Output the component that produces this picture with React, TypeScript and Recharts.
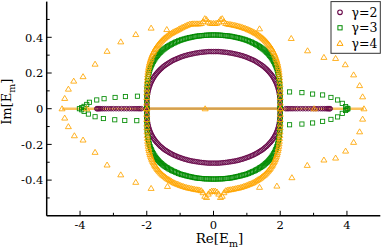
import React from 'react';
import { ScatterChart, Scatter, XAxis, YAxis, Label } from 'recharts';

// ---- data ----
// real parts of the ring-shaped eigenvalue branches (shared by all three γ)
const ringRe = [2, 2, 2, 1.999,
  1.997, 1.994, 1.989, 1.983, 1.975, 1.967, 1.956, 1.945, 1.932, 1.918,
  1.902, 1.885, 1.867, 1.848, 1.827, 1.805, 1.782, 1.758, 1.732, 1.705,
  1.677, 1.648, 1.618, 1.587, 1.554, 1.521, 1.486, 1.451, 1.414, 1.377,
  1.338, 1.299, 1.259, 1.218, 1.176, 1.133, 1.089, 1.045, 1, 0.954,
  0.908, 0.861, 0.813, 0.765, 0.717, 0.668, 0.618, 0.568, 0.518, 0.467,
  0.416, 0.364, 0.313, 0.261, 0.209, 0.157, 0.105, 0.052,
  0,
  -0.052, -0.105, -0.157, -0.209, -0.261, -0.313, -0.364, -0.416,
  -0.467, -0.518, -0.568, -0.618, -0.668, -0.717, -0.765, -0.813, -0.861, -0.908,
  -0.954, -1, -1.045, -1.089, -1.133, -1.176, -1.218, -1.259, -1.299, -1.338,
  -1.377, -1.414, -1.451, -1.486, -1.521, -1.554, -1.587, -1.618, -1.648, -1.677,
  -1.705, -1.732, -1.758, -1.782, -1.805, -1.827, -1.848, -1.867, -1.885, -1.902,
  -1.918, -1.932, -1.945, -1.956, -1.967, -1.975, -1.983, -1.989, -1.994, -1.997,
  -1.999, -2, -2, -2];

// γ=2 ring, imaginary parts (upper / lower branch)
const g2ImUpper = [0, 0.006, 0.016, 0.027,
  0.036, 0.049, 0.060, 0.071, 0.081, 0.091, 0.100, 0.109, 0.118, 0.126,
  0.134, 0.142, 0.150, 0.157, 0.164, 0.172, 0.178, 0.185, 0.192, 0.198,
  0.204, 0.210, 0.216, 0.222, 0.227, 0.233, 0.238, 0.243, 0.248, 0.252,
  0.257, 0.261, 0.266, 0.270, 0.274, 0.277, 0.281, 0.284, 0.288, 0.291,
  0.294, 0.297, 0.299, 0.302, 0.304, 0.306, 0.308, 0.310, 0.312, 0.313,
  0.315, 0.316, 0.317, 0.318, 0.319, 0.320, 0.320, 0.320,
  0.320,
  0.320, 0.320, 0.320, 0.319, 0.318, 0.317, 0.316, 0.315,
  0.313, 0.312, 0.310, 0.308, 0.306, 0.304, 0.302, 0.299, 0.297, 0.294,
  0.291, 0.288, 0.284, 0.281, 0.277, 0.274, 0.270, 0.266, 0.261, 0.257,
  0.252, 0.248, 0.243, 0.238, 0.233, 0.227, 0.222, 0.216, 0.210, 0.204,
  0.198, 0.192, 0.185, 0.178, 0.172, 0.164, 0.157, 0.150, 0.142, 0.134,
  0.126, 0.118, 0.109, 0.100, 0.091, 0.081, 0.071, 0.060, 0.049, 0.036,
  0.027, 0.016, 0.006, 0];
const g2ImLower = [0, -0.006, -0.015, -0.026,
  -0.034, -0.047, -0.057, -0.068, -0.077, -0.087, -0.095, -0.104, -0.112, -0.120,
  -0.128, -0.135, -0.143, -0.150, -0.156, -0.164, -0.170, -0.176, -0.183, -0.189,
  -0.194, -0.200, -0.206, -0.212, -0.216, -0.222, -0.227, -0.232, -0.236, -0.240,
  -0.245, -0.249, -0.253, -0.257, -0.261, -0.264, -0.268, -0.271, -0.274, -0.277,
  -0.280, -0.283, -0.285, -0.288, -0.290, -0.292, -0.294, -0.295, -0.297, -0.298,
  -0.300, -0.301, -0.302, -0.303, -0.304, -0.305, -0.305, -0.305,
  -0.305,
  -0.305, -0.305, -0.305, -0.304, -0.303, -0.302, -0.301, -0.300,
  -0.298, -0.297, -0.295, -0.294, -0.292, -0.290, -0.288, -0.285, -0.283, -0.280,
  -0.277, -0.274, -0.271, -0.268, -0.264, -0.261, -0.257, -0.253, -0.249, -0.245,
  -0.240, -0.236, -0.232, -0.227, -0.222, -0.216, -0.212, -0.206, -0.200, -0.194,
  -0.189, -0.183, -0.176, -0.170, -0.164, -0.156, -0.150, -0.143, -0.135, -0.128,
  -0.120, -0.112, -0.104, -0.095, -0.087, -0.077, -0.068, -0.057, -0.047, -0.034,
  -0.026, -0.015, -0.006, 0];
// γ=2 real eigenvalues outside the ring
const g2RealRe = [-3.50, -3.48, -3.45, -3.42, -3.38, -3.33, -3.27, -3.21, -3.14, -3.07, -3.00, -2.92, -2.84, -2.76, -2.68, -2.60, -2.52, -2.45, -2.38, -2.32, -2.26, -2.21, -2.16, 2.16, 2.21, 2.26, 2.32, 2.38, 2.45, 2.52, 2.60, 2.68, 2.76, 2.84, 2.92, 3.00, 3.07, 3.14, 3.21, 3.27, 3.33, 3.38, 3.42, 3.45, 3.48, 3.50];

// γ=3 ring
const g3ImUpper = [0, 0.023, 0.048, 0.070,
  0.087, 0.107, 0.125, 0.140, 0.155, 0.168, 0.180, 0.191, 0.202, 0.212,
  0.222, 0.231, 0.240, 0.248, 0.256, 0.264, 0.272, 0.279, 0.286, 0.293,
  0.299, 0.306, 0.312, 0.317, 0.323, 0.329, 0.334, 0.339, 0.344, 0.348,
  0.353, 0.357, 0.361, 0.365, 0.369, 0.373, 0.376, 0.380, 0.383, 0.386,
  0.389, 0.391, 0.394, 0.396, 0.398, 0.400, 0.402, 0.404, 0.406, 0.407,
  0.408, 0.409, 0.410, 0.411, 0.412, 0.412, 0.413, 0.413,
  0.413,
  0.413, 0.413, 0.412, 0.412, 0.411, 0.410, 0.409, 0.408,
  0.407, 0.406, 0.404, 0.402, 0.400, 0.398, 0.396, 0.394, 0.391, 0.389,
  0.386, 0.383, 0.380, 0.376, 0.373, 0.369, 0.365, 0.361, 0.357, 0.353,
  0.348, 0.344, 0.339, 0.334, 0.329, 0.323, 0.317, 0.312, 0.306, 0.299,
  0.293, 0.286, 0.279, 0.272, 0.264, 0.256, 0.248, 0.240, 0.231, 0.222,
  0.212, 0.202, 0.191, 0.180, 0.168, 0.155, 0.140, 0.125, 0.107, 0.087,
  0.070, 0.048, 0.023, 0];
const g3ImLower = [0, -0.022, -0.046, -0.067,
  -0.083, -0.102, -0.119, -0.134, -0.148, -0.160, -0.172, -0.182, -0.193, -0.202,
  -0.212, -0.221, -0.229, -0.237, -0.245, -0.252, -0.260, -0.266, -0.273, -0.280,
  -0.286, -0.292, -0.298, -0.303, -0.308, -0.314, -0.319, -0.324, -0.329, -0.332,
  -0.337, -0.341, -0.345, -0.349, -0.352, -0.356, -0.359, -0.363, -0.366, -0.369,
  -0.371, -0.373, -0.376, -0.378, -0.380, -0.382, -0.384, -0.386, -0.388, -0.389,
  -0.390, -0.391, -0.392, -0.393, -0.393, -0.393, -0.394, -0.394,
  -0.394,
  -0.394, -0.394, -0.393, -0.393, -0.393, -0.392, -0.391, -0.390,
  -0.389, -0.388, -0.386, -0.384, -0.382, -0.380, -0.378, -0.376, -0.373, -0.371,
  -0.369, -0.366, -0.363, -0.359, -0.356, -0.352, -0.349, -0.345, -0.341, -0.337,
  -0.332, -0.329, -0.324, -0.319, -0.314, -0.308, -0.303, -0.298, -0.292, -0.286,
  -0.280, -0.273, -0.266, -0.260, -0.252, -0.245, -0.237, -0.229, -0.221, -0.212,
  -0.202, -0.193, -0.182, -0.172, -0.160, -0.148, -0.134, -0.119, -0.102, -0.083,
  -0.067, -0.046, -0.022, 0];
// γ=3 tails outside the ring
const g3TailRe = [-4.02, -3.95, -3.88, -3.80, -3.72, -3.50, -3.28, -2.95, -2.64, -2.28, -3.95, -3.88, -3.75, -3.55, -3.30, -2.96, -2.66, -2.30, 2.28, 2.65, 2.97, 3.27, 3.52, 3.72, 3.86, 3.96, 4.00, 4.03, 4.00, 3.96, 3.86, 3.72, 3.52, 3.27, 2.97, 2.65, 2.28];
const g3TailIm = [0, 0.006, 0.013, 0.024, 0.036, 0.049, 0.056, 0.063, 0.068, 0.070, -0.006, -0.015, -0.030, -0.045, -0.055, -0.062, -0.066, -0.067, 0.094, 0.090, 0.082, 0.077, 0.063, 0.049, 0.030, 0.012, 0.003, 0, -0.004, -0.010, -0.026, -0.046, -0.060, -0.071, -0.080, -0.086, -0.090];

// γ=4 ring
const g4ImUpper = [0, 0.032, 0.063, 0.090,
  0.110, 0.134, 0.155, 0.173, 0.190, 0.205, 0.219, 0.232, 0.244, 0.256,
  0.267, 0.277, 0.287, 0.297, 0.306, 0.315, 0.323, 0.332, 0.339, 0.347,
  0.354, 0.361, 0.368, 0.375, 0.381, 0.387, 0.393, 0.398, 0.404, 0.409,
  0.414, 0.419, 0.423, 0.428, 0.432, 0.436, 0.440, 0.443, 0.447, 0.450,
  0.453, 0.456, 0.459, 0.461, 0.464, 0.466, 0.468, 0.470, 0.472, 0.473,
  0.475, 0.478, 0.488, 0.505, 0.500, 0.486, 0.480, 0.478,
  0.478,
  0.478, 0.480, 0.486, 0.500, 0.505, 0.488, 0.478, 0.476,
  0.476, 0.476, 0.476, 0.476, 0.475, 0.474, 0.470, 0.466, 0.462, 0.458,
  0.454, 0.449, 0.445, 0.440, 0.436, 0.432, 0.428, 0.423, 0.419, 0.414,
  0.409, 0.404, 0.398, 0.393, 0.387, 0.381, 0.375, 0.368, 0.361, 0.354,
  0.347, 0.339, 0.332, 0.323, 0.315, 0.306, 0.297, 0.287, 0.277, 0.267,
  0.256, 0.244, 0.232, 0.219, 0.205, 0.190, 0.173, 0.155, 0.134, 0.110,
  0.090, 0.063, 0.032, 0];
const g4ImLower = [0, -0.031, -0.060, -0.086,
  -0.106, -0.129, -0.149, -0.166, -0.182, -0.197, -0.210, -0.223, -0.234, -0.246,
  -0.256, -0.266, -0.276, -0.285, -0.294, -0.302, -0.310, -0.319, -0.325, -0.333,
  -0.340, -0.347, -0.353, -0.360, -0.366, -0.372, -0.377, -0.382, -0.388, -0.393,
  -0.397, -0.402, -0.406, -0.411, -0.415, -0.419, -0.422, -0.425, -0.429, -0.432,
  -0.435, -0.438, -0.441, -0.443, -0.445, -0.447, -0.449, -0.451, -0.453, -0.454,
  -0.456, -0.459, -0.470, -0.490, -0.497, -0.478, -0.466, -0.461,
  -0.461,
  -0.461, -0.466, -0.478, -0.497, -0.490, -0.470, -0.459, -0.456,
  -0.454, -0.453, -0.451, -0.449, -0.447, -0.445, -0.443, -0.441, -0.438, -0.435,
  -0.432, -0.429, -0.425, -0.422, -0.419, -0.415, -0.411, -0.406, -0.402, -0.397,
  -0.393, -0.388, -0.382, -0.377, -0.372, -0.366, -0.360, -0.353, -0.347, -0.340,
  -0.333, -0.325, -0.319, -0.310, -0.302, -0.294, -0.285, -0.276, -0.266, -0.256,
  -0.246, -0.234, -0.223, -0.210, -0.197, -0.182, -0.166, -0.149, -0.129, -0.106,
  -0.086, -0.060, -0.031, 0];
// γ=4 outer eigenvalues
const g4OuterRe = [-4.54, -4.46, -4.35, -4.19, -3.91, -3.55, -3.19, -2.78, -2.33, -1.87, -1.40, -4.46, -4.35, -4.17, -3.91, -3.55, -3.19, -2.78, -2.33, -1.87, -1.38, 1.38, 2.33, 2.82, 3.31, 3.66, 3.95, 4.20, 4.38, 4.47, 4.51, 4.47, 4.38, 4.20, 3.96, 3.66, 3.31, 2.81, 2.35, 1.90, 1.38, -3.80, -0.25, 3.02];
const g4OuterIm = [0, 0.058, 0.110, 0.155, 0.180, 0.250, 0.322, 0.375, 0.416, 0.452, 0.444, -0.052, -0.100, -0.151, -0.175, -0.244, -0.315, -0.370, -0.412, -0.446, -0.435, 0.448, 0.394, 0.325, 0.288, 0.282, 0.247, 0.190, 0.130, 0.067, 0, -0.058, -0.129, -0.188, -0.237, -0.276, -0.287, -0.317, -0.386, -0.433, -0.440, 0, 0, 0];
// dense real-axis eigenvalues (drawn as a continuous band)
const realBandRe = [-4.54, 4.51];
const innerBandRe = [-2, 2];

const seriesNames = ['γ=2', 'γ=3', 'γ=4'];
const seriesColors = ['#670748', '#008b00', '#ffa500'];

const xTicks = [-4, -3, -2, -1, 0, 1, 2, 3, 4];
const xMajor = [-4, -2, 0, 2, 4];
const yTicks = [-0.5, -0.4, -0.3, -0.2, -0.1, 0, 0.1, 0.2, 0.3, 0.4, 0.5];
const yMajor = [-0.4, -0.2, 0, 0.2, 0.4];

// ---- tables built from the arrays ----
const ring = (up: number[], lo: number[]) => [
  ...ringRe.map((x, i) => ({ x, y: up[i] })),
  ...ringRe.map((x, i) => ({ x, y: lo[i] })),
];
const g2Data = [...ring(g2ImUpper, g2ImLower), ...g2RealRe.map((x) => ({ x, y: 0 }))];
const g3Data = [...ring(g3ImUpper, g3ImLower), ...g3TailRe.map((x, i) => ({ x, y: g3TailIm[i] }))];
const g4Data = [...ring(g4ImUpper, g4ImLower), ...g4OuterRe.map((x, i) => ({ x, y: g4OuterIm[i] }))];
const bandData = realBandRe.map((x) => ({ x, y: 0 }));
const innerBandData = innerBandRe.map((x) => ({ x, y: 0 }));

const FONT = '"DejaVu Serif", serif';

const fmt = (v: number) => (v === 0 ? '0' : String(v));

const CircleMark = (c: string) => (p: any) => (
  <circle cx={p.cx} cy={p.cy} r={2.3} fill="none" stroke={c} strokeWidth={0.9} />
);
const SquareMark = (c: string) => (p: any) => (
  <rect x={p.cx - 2.1} y={p.cy - 2.1} width={4.2} height={4.2} fill="none" stroke={c} strokeWidth={0.85} />
);
const TriMark = (c: string) => (p: any) => (
  <polygon
    points={`${p.cx},${p.cy - 2.9} ${p.cx + 3},${p.cy + 2.1} ${p.cx - 3},${p.cy + 2.1}`}
    fill="none"
    stroke={c}
    strokeWidth={0.85}
  />
);
const NoMark = () => <g />;

const BottomTick = (p: any) => {
  const v = p.payload.value;
  const major = xMajor.includes(v);
  return (
    <g>
      <line x1={p.x} x2={p.x} y1={p.y} y2={p.y - (major ? 5 : 3)} stroke="#000" strokeWidth={1} />
      {major && (
        <text x={p.x} y={p.y + 13} textAnchor="middle" fontFamily={FONT} fontSize={11.5} fill="#000">
          {fmt(v)}
        </text>
      )}
    </g>
  );
};
const TopTick = (p: any) => {
  const v = p.payload.value;
  const major = xMajor.includes(v);
  return <line x1={p.x} x2={p.x} y1={p.y} y2={p.y + (major ? 5 : 3)} stroke="#000" strokeWidth={1} />;
};
const LeftTick = (p: any) => {
  const v = p.payload.value;
  const major = yMajor.includes(v);
  return (
    <g>
      <line x1={p.x} x2={p.x + (major ? 5 : 3)} y1={p.y} y2={p.y} stroke="#000" strokeWidth={1} />
      {major && (
        <text x={p.x - 3.4} y={p.y + 4.2} textAnchor="end" fontFamily={FONT} fontSize={11.5} fill="#000">
          {fmt(v)}
        </text>
      )}
    </g>
  );
};
const RightTick = (p: any) => {
  const v = p.payload.value;
  const major = yMajor.includes(v);
  return <line x1={p.x} x2={p.x - (major ? 5 : 3)} y1={p.y} y2={p.y} stroke="#000" strokeWidth={1} />;
};

const XTitle = (p: any) => {
  const vb = p.viewBox;
  return (
    <text x={vb.x + vb.width / 2 + 6} y={vb.y + 27.5} textAnchor="middle" fontFamily={FONT} fontSize={13.5} fill="#000">
      Re[E<tspan dy={3.5} fontSize={9.5}>m</tspan>
      <tspan dy={-3.5}>]</tspan>
    </text>
  );
};
const YTitle = (p: any) => {
  const vb = p.viewBox;
  const x = vb.x + 11.5;
  const y = vb.y + vb.height / 2 - 7;
  return (
    <text x={x} y={y} transform={`rotate(-90, ${x}, ${y})`} textAnchor="middle" fontFamily={FONT} fontSize={13} fill="#000">
      Im[E<tspan dy={3.5} fontSize={9.5}>m</tspan>
      <tspan dy={-3.5}>]</tspan>
    </text>
  );
};

const LegendBox = () => {
  const marks = [
    (c: string, y: number) => <circle cx={340} cy={y} r={2.3} fill="none" stroke={c} strokeWidth={1.1} />,
    (c: string, y: number) => <rect x={337.9} y={y - 2.1} width={4.2} height={4.2} fill="none" stroke={c} strokeWidth={1} />,
    (c: string, y: number) => (
      <polygon points={`340,${y - 2.9} 343,${y + 2.1} 337,${y + 2.1}`} fill="none" stroke={c} strokeWidth={1} />
    ),
  ];
  return (
    <svg width={382} height={250} style={{ position: 'absolute', left: 0, top: 0, pointerEvents: 'none' }}>
      <rect x={331} y={1.6} width={49.3} height={51.7} fill="#fff" stroke="#333" strokeWidth={1} />
      {seriesNames.map((n, i) => {
        const y = 12.3 + i * 15.5;
        return (
          <g key={n}>
            {marks[i](seriesColors[i], y)}
            <text x={351.5} y={y + 4.6} fontFamily={FONT} fontSize={12.5} fill="#000">
              {n}
            </text>
          </g>
        );
      })}
    </svg>
  );
};

export default function App() {
  return (
    <div style={{ position: 'absolute', left: 0, top: 0, width: 382, height: 250, background: '#fff' }}>
      <ScatterChart width={382} height={250} margin={{ top: 1.6, right: 1.7, left: 0, bottom: 0 }}>
        <XAxis
          xAxisId={0}
          dataKey="x"
          type="number"
          domain={[-5, 5]}
          allowDataOverflow
          ticks={xTicks}
          interval={0}
          height={34.2}
          tickSize={0}
          tickMargin={0}
          tickLine={false}
          tick={(p: any) => <BottomTick {...p} />}
          axisLine={{ stroke: '#000', strokeWidth: 1.5 }}
        >
          <Label content={(p: any) => <XTitle {...p} />} />
        </XAxis>
        <XAxis
          xAxisId="top"
          orientation="top"
          dataKey="x"
          type="number"
          domain={[-5, 5]}
          allowDataOverflow
          ticks={xTicks}
          interval={0}
          height={0}
          tickSize={0}
          tickMargin={0}
          tickLine={false}
          tick={(p: any) => <TopTick {...p} />}
          axisLine={{ stroke: '#000', strokeWidth: 1.5 }}
        />
        <YAxis
          yAxisId={0}
          dataKey="y"
          type="number"
          domain={[-0.6, 0.6]}
          allowDataOverflow
          ticks={yTicks}
          interval={0}
          width={46.7}
          tickSize={0}
          tickMargin={0}
          tickLine={false}
          tick={(p: any) => <LeftTick {...p} />}
          axisLine={{ stroke: '#000', strokeWidth: 1.5 }}
        >
          <Label content={(p: any) => <YTitle {...p} />} />
        </YAxis>
        <YAxis
          yAxisId="right"
          orientation="right"
          dataKey="y"
          type="number"
          domain={[-0.6, 0.6]}
          allowDataOverflow
          ticks={yTicks}
          interval={0}
          width={0}
          tickSize={0}
          tickMargin={0}
          tickLine={false}
          tick={(p: any) => <RightTick {...p} />}
          axisLine={{ stroke: '#000', strokeWidth: 1.5 }}
        />
        <Scatter data={bandData} line={{ stroke: '#fbc25e', strokeWidth: 2.6 }} shape={NoMark} legendType="none" isAnimationActive={false} />
        <Scatter data={innerBandData} line={{ stroke: '#d3a052', strokeWidth: 2.2 }} shape={NoMark} legendType="none" isAnimationActive={false} />
        <Scatter name={seriesNames[0]} data={g2Data} shape={CircleMark(seriesColors[0])} isAnimationActive={false} />
        <Scatter name={seriesNames[1]} data={g3Data} shape={SquareMark(seriesColors[1])} isAnimationActive={false} />
        <Scatter name={seriesNames[2]} data={g4Data} shape={TriMark(seriesColors[2])} isAnimationActive={false} />
      </ScatterChart>
      <LegendBox />
    </div>
  );
}
